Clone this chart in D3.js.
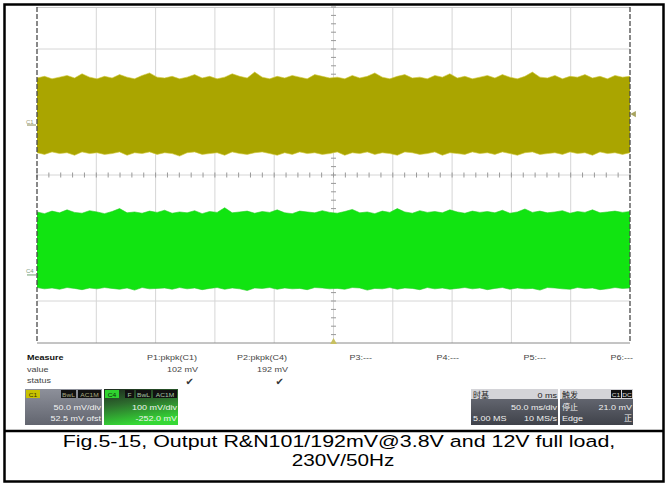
<!DOCTYPE html>
<html>
<head>
<meta charset="utf-8">
<script src="https://cdn.jsdelivr.net/npm/d3@7"></script>
<style>
  body { margin: 0; background: #fff; }
  svg { display: block; font-family: "Liberation Sans", Arial, sans-serif; }
</style>
</head>
<body>
<script>
// ---- data ----
// C1 envelope (mV, 50 mV/div), C4 envelope (mV, 100 mV/div)
const c1Hi = [56,58,55,57,59,56,61,57,55,58,56,60,57,55,59,62,57,56,58,55,
  57,60,56,58,55,57,61,58,56,63,57,55,58,56,59,57,55,60,58,56,
  57,55,59,56,58,62,57,55,58,60,56,57,55,59,57,61,56,58,55,57,
  59,56,60,57,55,58,63,57,56,59,55,58,57,60,56,58,55,59,57,58];
const c1Lo = [-33,-35,-32,-34,-33,-36,-32,-34,-33,-35,-34,-32,-36,-33,-34,-32,-35,-33,-34,-37,
  -33,-32,-35,-34,-33,-36,-32,-34,-35,-33,-32,-34,-36,-33,-35,-32,-34,-33,-35,-34,
  -32,-36,-33,-34,-32,-35,-33,-34,-36,-32,-33,-35,-34,-32,-36,-33,-34,-35,-32,-34,
  -33,-35,-32,-34,-36,-33,-32,-35,-34,-33,-35,-32,-34,-33,-36,-32,-34,-33,-35,-33];
const c4Hi = [150,146,152,148,155,149,147,153,150,146,151,158,148,150,147,152,149,154,147,150,
  148,153,146,151,149,160,148,150,152,147,151,149,155,148,146,152,150,148,153,149,
  147,151,156,148,150,146,152,149,158,150,147,153,149,151,148,155,150,147,152,149,
  151,148,154,147,150,157,149,152,148,150,153,147,151,149,155,148,150,152,149,151];
const c4Lo = [-30,-33,-31,-34,-30,-32,-35,-31,-33,-30,-32,-34,-31,-36,-30,-33,-32,-31,-34,-30,
  -33,-31,-35,-32,-30,-34,-31,-33,-37,-31,-32,-30,-34,-31,-33,-32,-35,-30,-31,-33,
  -32,-34,-30,-31,-36,-32,-33,-30,-34,-31,-32,-35,-30,-33,-31,-34,-32,-30,-33,-31,
  -35,-32,-30,-34,-31,-33,-32,-36,-30,-31,-33,-34,-30,-32,-31,-35,-33,-30,-32,-31];

const channels = ["C1", "C4"];
const chVoltsPerDiv = [50, 100];
const chPosDiv = [1.19, -2.38];
const chColor = ["#aaa500", "#11e411"];
const chEdge = ["#d2ca3a", "#22d022"];

const measureNames = ["P1:pkpk(C1)", "P2:pkpk(C4)", "P3:---", "P4:---", "P5:---", "P6:---"];
const measureValues = ["102 mV", "192 mV", "", "", "", ""];
const measureStatus = [true, true, false, false, false, false];
const rowLabels = ["Measure", "value", "status"];

const c1Box = ["50.0 mV/div", "52.5 mV ofst"];
const c4Box = ["100 mV/div", "-252.0 mV"];
const timeBox = ["时基", "0 ms", "50.0 ms/div", "5.00 MS", "10 MS/s"];
const trigBox = ["触发", "停止", "21.0 mV", "Edge", "正"];

const caption = ["Fig.5-15, Output R&N101/192mV@3.8V and 12V full load,", "230V/50Hz"];

// ---- layout ----
const W = 666, H = 485;
const svg = d3.select("body").append("svg").attr("width", W).attr("height", H);

const x = d3.scaleLinear().domain([-250, 250]).range([37, 630]);   // ms, 50 ms/div
const y = d3.scaleLinear().domain([-4, 4]).range([343, 7]);        // divisions

const txt = (g, px, py, s, o = {}) =>
  g.append("text")
    .attr("transform", `translate(${px},${py}) scale(${o.sx || 1.2},1)`)
    .attr("text-anchor", o.anchor || "start")
    .attr("font-size", o.size || 7.5)
    .attr("font-weight", o.weight || "normal")
    .attr("font-family", o.family || null)
    .attr("fill", o.fill || "#333")
    .text(s);

// grid
const grid = svg.append("g");
grid.selectAll(".gv").data(d3.range(-200, 201, 50)).join("line")
  .attr("x1", d => x(d)).attr("x2", d => x(d)).attr("y1", y(4)).attr("y2", y(-4))
  .attr("stroke", "#d6d6d6");
grid.selectAll(".gh").data(d3.range(-3, 4, 1)).join("line")
  .attr("x1", x(-250)).attr("x2", x(250)).attr("y1", d => y(d)).attr("y2", d => y(d))
  .attr("stroke", "#d6d6d6");
grid.append("line").attr("x1", x(-250)).attr("x2", x(250)).attr("y1", y(4) + 0.5).attr("y2", y(4) + 0.5).attr("stroke", "#ccc");
grid.append("line").attr("x1", x(-250)).attr("x2", x(250)).attr("y1", y(-4)).attr("y2", y(-4)).attr("stroke", "#8a8a8a");

// center cross ticks
const minorX = d3.range(-250, 251, 10);
const minorY = d3.range(-4, 4.01, 0.2);
grid.selectAll(".tx").data(minorX).join("line")
  .attr("x1", d => x(d)).attr("x2", d => x(d)).attr("y1", y(0) - 2.5).attr("y2", y(0) + 2.5)
  .attr("stroke", "#999");
grid.selectAll(".ty").data(minorY).join("line")
  .attr("x1", x(0) - 2.5).attr("x2", x(0) + 2.5).attr("y1", d => y(d)).attr("y2", d => y(d))
  .attr("stroke", "#999");

// signal bands
channels.forEach((c, i) => {
  const hi = i === 0 ? c1Hi : c4Hi;
  const lo = i === 0 ? c1Lo : c4Lo;
  const xi = d3.scaleLinear().domain([0, hi.length - 1]).range([x(-250), x(250)]);
  const yv = v => y(v / chVoltsPerDiv[i] + chPosDiv[i]);
  const area = d3.area().x((d, k) => xi(k)).y0((d, k) => yv(lo[k])).y1(d => yv(d));
  svg.append("path").attr("d", area(hi)).attr("fill", chColor[i]);
  const line = d3.line().x((d, k) => xi(k)).y(d => yv(d));
  svg.append("path").attr("d", line(hi)).attr("fill", "none").attr("stroke", chEdge[i]).attr("stroke-width", 0.6);
  svg.append("path").attr("d", line(lo)).attr("fill", "none").attr("stroke", chEdge[i]).attr("stroke-width", 0.6);

  // ground marker on the left
  const gy = y(chPosDiv[i]);
  svg.append("line").attr("x1", 27).attr("x2", 36).attr("y1", gy).attr("y2", gy)
    .attr("stroke", i === 0 ? "#8a8a50" : "#70a070").attr("stroke-width", 1);
  txt(svg, 26, gy - 1.5, c, { size: 6, sx: 1, fill: i === 0 ? "#9a9a70" : "#80a080" });
});

// left / right edges
[x(-250), x(250)].forEach(ex => {
  svg.append("line").attr("x1", ex).attr("x2", ex).attr("y1", y(4)).attr("y2", y(-4))
    .attr("stroke", "#4a4a4a").attr("stroke-width", 1.3).attr("stroke-dasharray", "5,2");
});

// right trigger level marker and bottom trigger position marker
svg.append("path").attr("d", d3.symbol(d3.symbolTriangle, 18)())
  .attr("transform", `translate(${x(250) + 4},${y(1.45)}) rotate(-90)`).attr("fill", "#a8a460");
svg.append("path").attr("d", d3.symbol(d3.symbolTriangle, 20)())
  .attr("transform", `translate(${x(0)},${y(-4) - 1})`).attr("fill", "#c8c060");

// measure table
const m = svg.append("g");
txt(m, 27, 360, rowLabels[0], { weight: "bold", fill: "#111" });
txt(m, 27, 372, rowLabels[1], { fill: "#444" });
txt(m, 27, 383, rowLabels[2], { fill: "#444" });
const colRight = [197, 287, 372, 459, 546, 633];
measureNames.forEach((n, i) => {
  txt(m, colRight[i], 360, n, { anchor: "end", fill: "#444" });
  if (measureValues[i]) txt(m, colRight[i] + 1, 372, measureValues[i], { anchor: "end", fill: "#444" });
  if (measureStatus[i]) txt(m, colRight[i] - 3, 385, "✔", { anchor: "end", size: 10, sx: 1, fill: "#333", family: "DejaVu Sans" });
});

// channel boxes
const defs = svg.append("defs");
const g1 = defs.append("linearGradient").attr("id", "gGray").attr("x1", 0).attr("y1", 0).attr("x2", 0).attr("y2", 1);
g1.append("stop").attr("offset", 0).attr("stop-color", "#8d909a");
g1.append("stop").attr("offset", 1).attr("stop-color", "#62656f");
const g4 = defs.append("linearGradient").attr("id", "gGreen").attr("x1", 0).attr("y1", 0).attr("x2", 0.3).attr("y2", 1);
g4.append("stop").attr("offset", 0).attr("stop-color", "#1d2a1e");
g4.append("stop").attr("offset", 0.45).attr("stop-color", "#2d6d2e");
g4.append("stop").attr("offset", 1).attr("stop-color", "#35d835");
const gd = defs.append("linearGradient").attr("id", "gDark").attr("x1", 0).attr("y1", 0).attr("x2", 0).attr("y2", 1);
gd.append("stop").attr("offset", 0).attr("stop-color", "#6f727c");
gd.append("stop").attr("offset", 1).attr("stop-color", "#3f424a");

const badge = (g, bx, by, w, s, bg, fg) => {
  g.append("rect").attr("x", bx).attr("y", by).attr("width", w).attr("height", 8).attr("fill", bg);
  txt(g, bx + w / 2, by + 6.5, s, { anchor: "middle", size: 6, sx: 1.1, fill: fg });
};

const b1 = svg.append("g");
b1.append("rect").attr("x", 25).attr("y", 389).attr("width", 77).attr("height", 36).attr("fill", "url(#gGray)");
badge(b1, 26, 390, 14, "C1", "#c9c200", "#3a3800");
badge(b1, 61, 390, 15, "BwL", "#111", "#a8a880");
badge(b1, 78, 390, 23, "AC1M", "#111", "#a8a880");
txt(b1, 101, 410, c1Box[0], { anchor: "end", fill: "#f2f2f2" });
txt(b1, 101, 421, c1Box[1], { anchor: "end", fill: "#f2f2f2" });

const b4 = svg.append("g");
b4.append("rect").attr("x", 104).attr("y", 389).attr("width", 74).attr("height", 36).attr("fill", "url(#gGreen)");
badge(b4, 105, 390, 14, "C4", "#2fd42f", "#0d300d");
badge(b4, 125, 390, 9, "F", "#111", "#a8c8a8");
badge(b4, 136, 390, 15, "BwL", "#111", "#a8c8a8");
badge(b4, 153, 390, 24, "AC1M", "#111", "#a8c8a8");
txt(b4, 177, 410, c4Box[0], { anchor: "end", fill: "#f2f2f2" });
txt(b4, 177, 421, c4Box[1], { anchor: "end", fill: "#f2f2f2" });

// timebase box
const bt = svg.append("g");
bt.append("rect").attr("x", 471).attr("y", 389).attr("width", 87).attr("height", 36).attr("fill", "url(#gDark)");
bt.append("rect").attr("x", 471).attr("y", 389).attr("width", 87).attr("height", 10).attr("fill", "#d4d4d8");
txt(bt, 473, 397.5, timeBox[0], { size: 8, sx: 1, fill: "#222", family: "Noto Sans CJK SC" });
txt(bt, 557, 397.5, timeBox[1], { anchor: "end", fill: "#222" });
txt(bt, 557, 410, timeBox[2], { anchor: "end", fill: "#f0f0f0" });
txt(bt, 473, 421, timeBox[3], { fill: "#f0f0f0" });
txt(bt, 557, 421, timeBox[4], { anchor: "end", fill: "#f0f0f0" });

// trigger box
const bg = svg.append("g");
bg.append("rect").attr("x", 560).attr("y", 389).attr("width", 73).attr("height", 36).attr("fill", "url(#gDark)");
bg.append("rect").attr("x", 560).attr("y", 389).attr("width", 73).attr("height", 10).attr("fill", "#d4d4d8");
txt(bg, 562, 397.5, trigBox[0], { size: 8, sx: 1, fill: "#222", family: "Noto Sans CJK SC" });
badge(bg, 611, 390, 10, "C1", "#111", "#ddd");
badge(bg, 622, 390, 10, "DC", "#111", "#ddd");
txt(bg, 562, 410, trigBox[1], { size: 8, sx: 1, fill: "#f0f0f0", family: "Noto Sans CJK SC" });
txt(bg, 632, 410, trigBox[2], { anchor: "end", fill: "#f0f0f0" });
txt(bg, 562, 421, trigBox[3], { fill: "#f0f0f0" });
txt(bg, 632, 421, trigBox[4], { anchor: "end", size: 8, sx: 1, fill: "#f0f0f0", family: "Noto Sans CJK SC" });

// frame and caption
svg.append("rect").attr("x", 4.5).attr("y", 4.5).attr("width", 659).attr("height", 477)
  .attr("fill", "none").attr("stroke", "#000").attr("stroke-width", 2.5);
svg.append("line").attr("x1", 4.5).attr("x2", 663.5).attr("y1", 431).attr("y2", 431)
  .attr("stroke", "#000").attr("stroke-width", 2.5);
txt(svg, 339, 447, caption[0], { anchor: "middle", size: 17, sx: 1.26, fill: "#000" });
txt(svg, 343, 465.5, caption[1], { anchor: "middle", size: 17, sx: 1.22, fill: "#000" });
</script>
</body>
</html>
